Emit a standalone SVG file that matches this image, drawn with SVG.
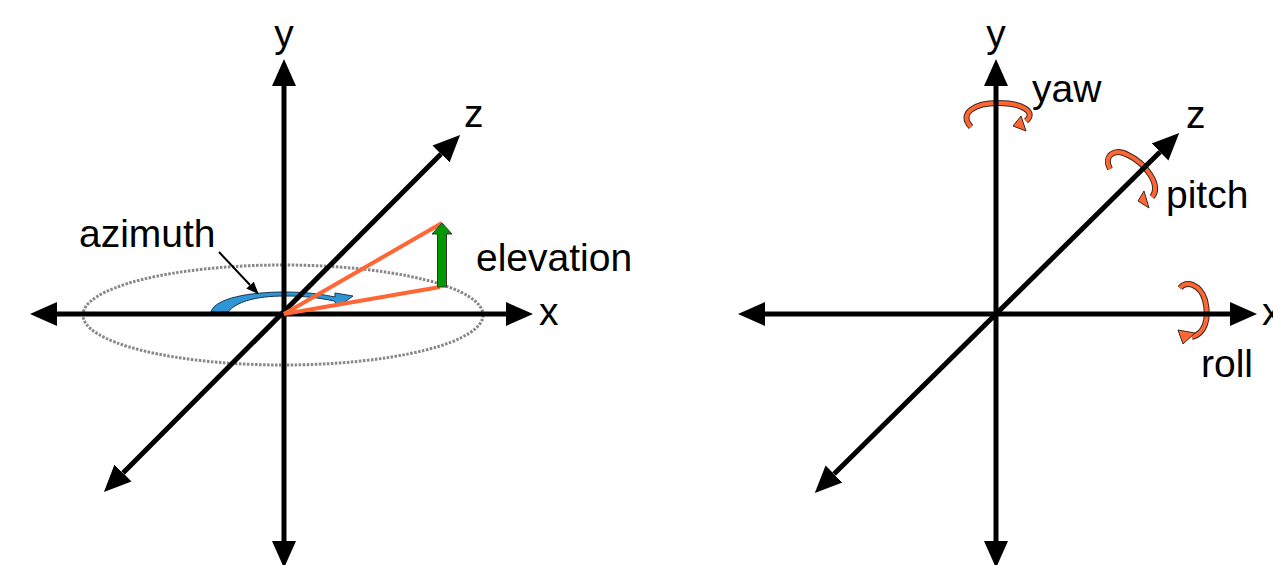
<svg xmlns="http://www.w3.org/2000/svg" width="1273" height="565" viewBox="0 0 1273 565">
<style>
.axis{stroke:#000;stroke-width:5;fill:none}
.lbl{font-family:"Liberation Sans",Arial,sans-serif;font-size:39px;fill:#000}
.rotO{fill:none;stroke:#3a2a20;stroke-width:6;stroke-linecap:butt}
.rotI{fill:none;stroke:#FF6633;stroke-width:4;stroke-linecap:butt}
.head{fill:#FF6633;stroke:#3a2a20;stroke-width:1}
</style>
<defs>
<marker id="ah" markerUnits="userSpaceOnUse" markerWidth="28" markerHeight="26" refX="0" refY="12" orient="auto-start-reverse" viewBox="0 0 28 24">
<path d="M0,0 L27,12 L0,24 Z" fill="#000"/>
</marker>
<marker id="sm" markerUnits="userSpaceOnUse" markerWidth="14" markerHeight="12" refX="0" refY="5" orient="auto" viewBox="0 0 14 10">
<path d="M0,0 L13,5 L0,10 Z" fill="#000"/>
</marker>
</defs>

<g id="left">
<ellipse id="ring" cx="283" cy="315" rx="200" ry="50" fill="none" stroke="#888" stroke-width="3" stroke-dasharray="2.5 1.5"/>
<path id="azimuth-arrow" d="M211 312 C215 298 250 292 285 292 C310 292 325 295 335 297 L335 293 L353 296 L339 306 L334 301 C320 298 305 296 285 296 C255 296 236 302 228 312 Z" fill="#2E96D6" stroke="#1a3550" stroke-width="1"/>
<g id="left-axes">
<line class="axis" x1="284" y1="86" x2="284" y2="541" marker-start="url(#ah)" marker-end="url(#ah)"/>
<line class="axis" x1="57" y1="314" x2="506" y2="314" marker-start="url(#ah)" marker-end="url(#ah)"/>
<line class="axis" x1="123" y1="473" x2="441" y2="154" marker-start="url(#ah)" marker-end="url(#ah)"/>
</g>
<g id="vectors">
<line x1="284" y1="314" x2="442" y2="223" stroke="#FF6633" stroke-width="4"/>
<line x1="284" y1="314" x2="440" y2="287" stroke="#FF6633" stroke-width="4"/>
<path id="elev-arrow" d="M437.5 287 L437.5 234 L432 234 L442 223 L452 234 L446.5 234 L446.5 287 Z" fill="#009900" stroke="#333" stroke-width="1"/>
</g>
<line id="pointer" x1="219" y1="252" x2="250" y2="285" stroke="#000" stroke-width="2" marker-end="url(#sm)"/>
<text class="lbl" x="284" y="47" text-anchor="middle">y</text>
<text class="lbl" x="464" y="127">z</text>
<text class="lbl" x="539" y="325">x</text>
<text class="lbl" x="79" y="247">azimuth</text>
<text class="lbl" x="476" y="271">elevation</text>
</g>

<g id="right">
<g id="yaw-arrow">
<path class="rotO" d="M971 127 C958 113 975 103 998 103 C1022 103 1037 112 1026 121"/>
<path class="rotI" d="M971 127 C958 113 975 103 998 103 C1022 103 1037 112 1026 121"/>
<path class="head" d="M1013 126 L1021 116 L1026 131 Z"/>
</g>
<g id="pitch-arrow">
<path class="rotO" d="M1110 169 C1103 155 1115 148 1128 155 C1145 163 1162 185 1152 197"/>
<path class="rotI" d="M1110 169 C1103 155 1115 148 1128 155 C1145 163 1162 185 1152 197"/>
<path class="head" d="M1138 201 L1144 191 L1149 208 Z"/>
</g>
<g id="roll-arrow">
<path class="rotO" d="M1180 288 C1186 280 1200 284 1205 300 C1210 320 1204 334 1192 337"/>
<path class="rotI" d="M1180 288 C1186 280 1200 284 1205 300 C1210 320 1204 334 1192 337"/>
<path class="head" d="M1178 330 L1183 344 L1195 333 Z"/>
</g>
<g id="right-axes">
<line class="axis" x1="996" y1="86" x2="996" y2="541" marker-start="url(#ah)" marker-end="url(#ah)"/>
<line class="axis" x1="765" y1="314" x2="1230" y2="314" marker-start="url(#ah)" marker-end="url(#ah)"/>
<line class="axis" x1="834" y1="474" x2="1160" y2="152" marker-start="url(#ah)" marker-end="url(#ah)"/>
</g>
<text class="lbl" x="996" y="47" text-anchor="middle">y</text>
<text class="lbl" x="1032" y="102">yaw</text>
<text class="lbl" x="1186" y="128">z</text>
<text class="lbl" x="1166" y="208">pitch</text>
<text class="lbl" x="1201" y="377">roll</text>
<text class="lbl" x="1262" y="325">x</text>
</g>
</svg>
